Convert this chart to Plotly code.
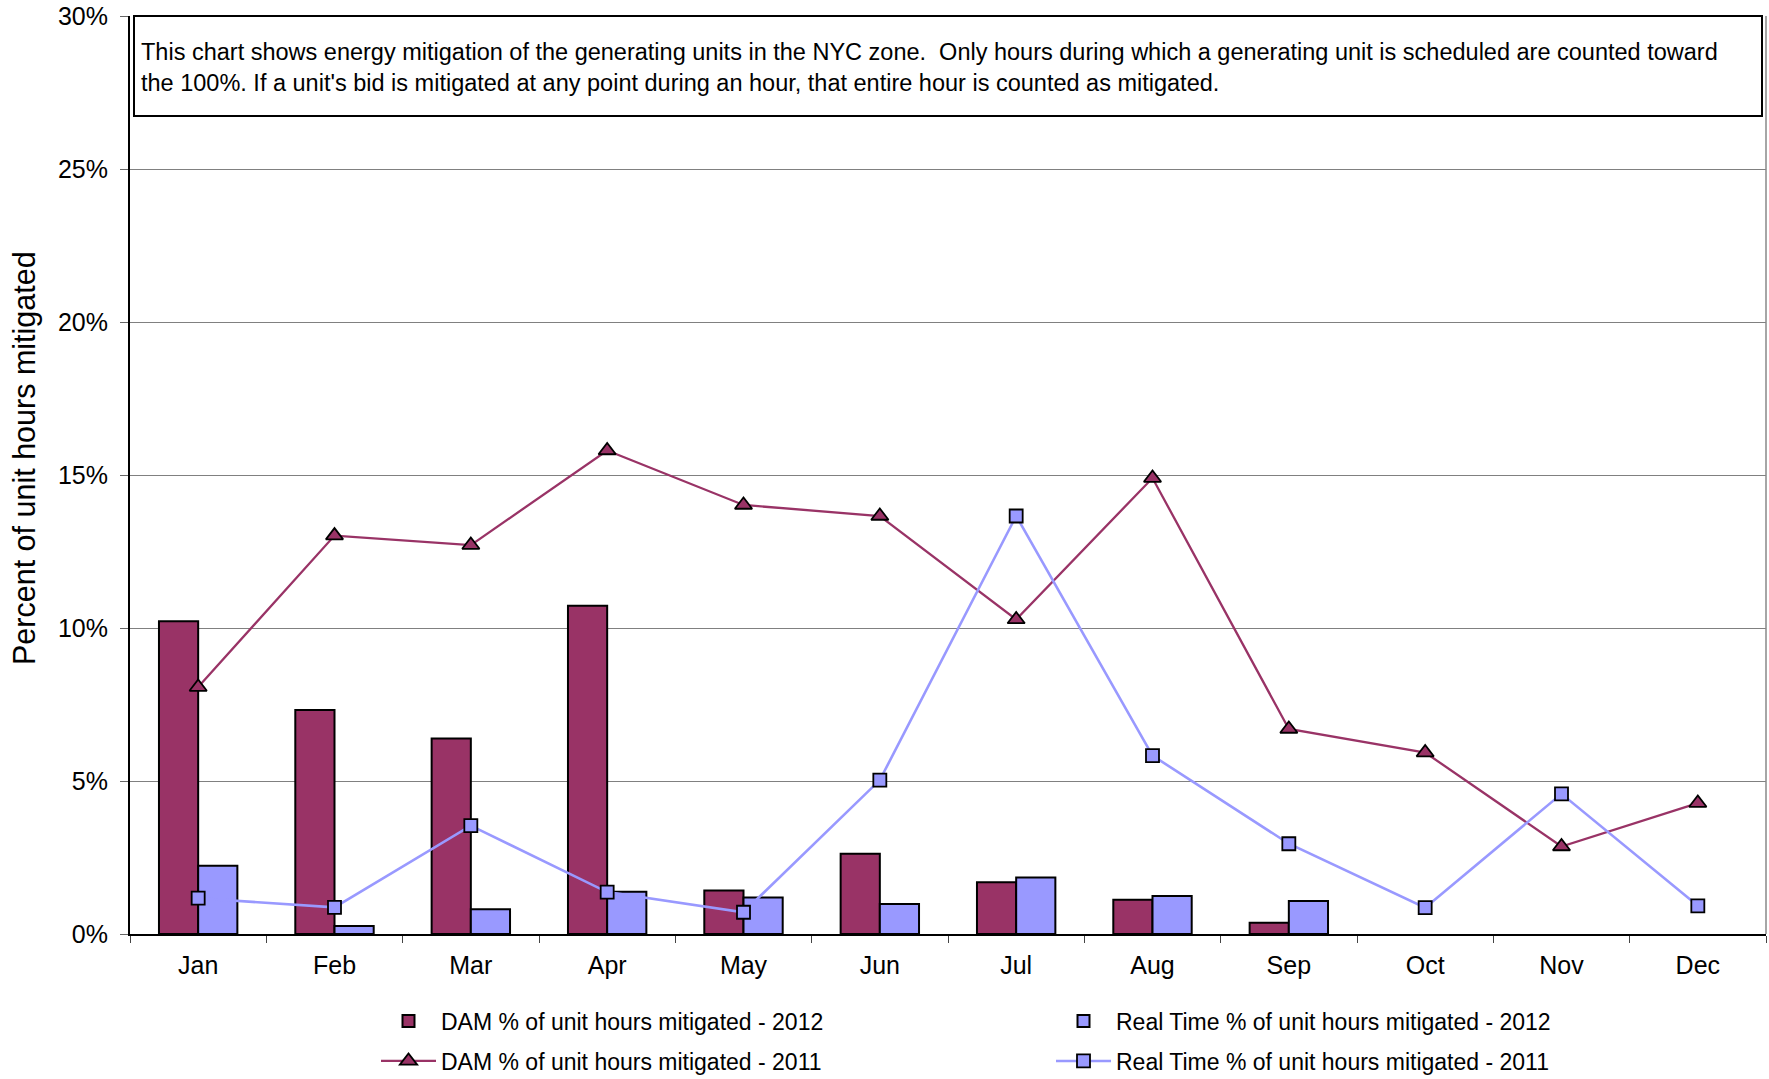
import plotly.graph_objects as go

months = ["Jan", "Feb", "Mar", "Apr", "May", "Jun", "Jul", "Aug", "Sep", "Oct", "Nov", "Dec"]

# percent of unit hours mitigated
dam_2012 = [10.22, 7.32, 6.39, 10.73, 1.42, 2.62, 1.69, 1.12, 0.37, None, None, None]
rt_2012 = [2.23, 0.26, 0.81, 1.38, 1.19, 0.98, 1.85, 1.24, 1.08, None, None, None]
dam_2011 = [8.07, 13.02, 12.71, 15.8, 14.02, 13.66, 10.28, 14.9, 6.7, 5.93, 2.86, 4.28]
rt_2011 = [1.17, 0.87, 3.54, 1.37, 0.71, 5.03, 13.66, 5.83, 2.95, 0.86, 4.58, 0.92]

y_ticks = [0, 5, 10, 15, 20, 25, 30]
y_labels = [f"{v}%" for v in y_ticks]

note = ("This chart shows energy mitigation of the generating units in the NYC zone.  "
        "Only hours during which a generating unit is scheduled are counted toward<br>"
        "the 100%. If a unit's bid is mitigated at any point during an hour, "
        "that entire hour is counted as mitigated.")

MAROON = "#993366"
LAVENDER = "#9999FF"
FONT = "Arial, Liberation Sans, sans-serif"

W, H = 1769, 1079
L, R, T, B = 130, 3, 16, 145
pw, ph = W - L - R, H - T - B


def px_x(x):
    return (x - L) / pw


def px_y(y):
    return (H - B - y) / ph


fig = go.Figure()
fig.add_trace(go.Bar(x=months, y=dam_2012, name="DAM % of unit hours mitigated - 2012",
                     marker=dict(color=MAROON, line=dict(color="black", width=2)),
                     legend="legend"))
fig.add_trace(go.Bar(x=months, y=rt_2012, name="Real Time % of unit hours mitigated - 2012",
                     marker=dict(color=LAVENDER, line=dict(color="black", width=2)),
                     legend="legend"))
fig.add_trace(go.Scatter(x=months, y=dam_2011, mode="lines+markers",
                         name="DAM % of unit hours mitigated - 2011",
                         line=dict(color=MAROON, width=2.3),
                         marker=dict(symbol="triangle-up", size=15, color=MAROON,
                                     line=dict(color="black", width=1.8)),
                         legend="legend2"))
fig.add_trace(go.Scatter(x=months, y=rt_2011, mode="lines+markers",
                         name="Real Time % of unit hours mitigated - 2011",
                         line=dict(color=LAVENDER, width=2.6),
                         marker=dict(symbol="square", size=13, color=LAVENDER,
                                     line=dict(color="black", width=1.8)),
                         legend="legend2"))

legend_common = dict(orientation="h", xanchor="left", yanchor="middle",
                     font=dict(family=FONT, size=23, color="black"),
                     itemwidth=55, entrywidth=605, entrywidthmode="pixels",
                     bgcolor="rgba(0,0,0,0)", itemclick=False)

fig.update_layout(
    width=W, height=H,
    margin=dict(l=L, r=R, t=T, b=B, pad=0, autoexpand=False),
    paper_bgcolor="white", plot_bgcolor="white",
    font=dict(family=FONT, color="black"),
    barmode="group", bargap=0.425, bargroupgap=0,
    showlegend=True,
    legend=dict(x=px_x(376), y=px_y(1021), **legend_common),
    legend2=dict(x=px_x(376), y=px_y(1061), **legend_common),
)

fig.update_xaxes(
    type="category", range=[-0.5, 11.5],
    showline=True, linecolor="black", linewidth=2,
    ticks="outside", tickson="boundaries", ticklen=7, tickcolor="#444", tickwidth=1,
    tickfont=dict(size=25, family=FONT), ticklabelstandoff=8,
    showgrid=False, fixedrange=True,
)
fig.update_yaxes(
    range=[0, 30], tickmode="array", tickvals=y_ticks, ticktext=y_labels,
    showline=True, linecolor="black", linewidth=2,
    ticks="outside", ticklen=8, tickcolor="#666", tickwidth=1,
    tickfont=dict(size=25, family=FONT), ticklabelstandoff=7,
    showgrid=True, gridcolor="#808080", gridwidth=1,
    zeroline=False, fixedrange=True,
)

# right border of plot area
fig.add_shape(type="line", xref="paper", yref="paper", x0=1, x1=1, y0=0, y1=1,
              line=dict(color="#888", width=1.5))

# explanatory note box
fig.add_shape(type="rect", xref="paper", yref="paper",
              x0=px_x(134), x1=px_x(1762), y0=px_y(116), y1=px_y(16),
              line=dict(color="black", width=2), fillcolor="white")
fig.add_annotation(text=note, xref="paper", yref="paper",
                   x=px_x(139), y=px_y(68), xanchor="left", yanchor="middle",
                   align="left", showarrow=False,
                   font=dict(family=FONT, size=23.5, color="black"))

# y axis title
fig.add_annotation(text="Percent of unit hours mitigated", xref="paper", yref="paper",
                   x=px_x(24), y=px_y(458), xanchor="center", yanchor="middle",
                   textangle=-90, showarrow=False,
                   font=dict(family=FONT, size=30.5, color="black"))

fig.write_html("out.html", config={"displayModeBar": False},
               post_script="document.body.style.margin='0';")
